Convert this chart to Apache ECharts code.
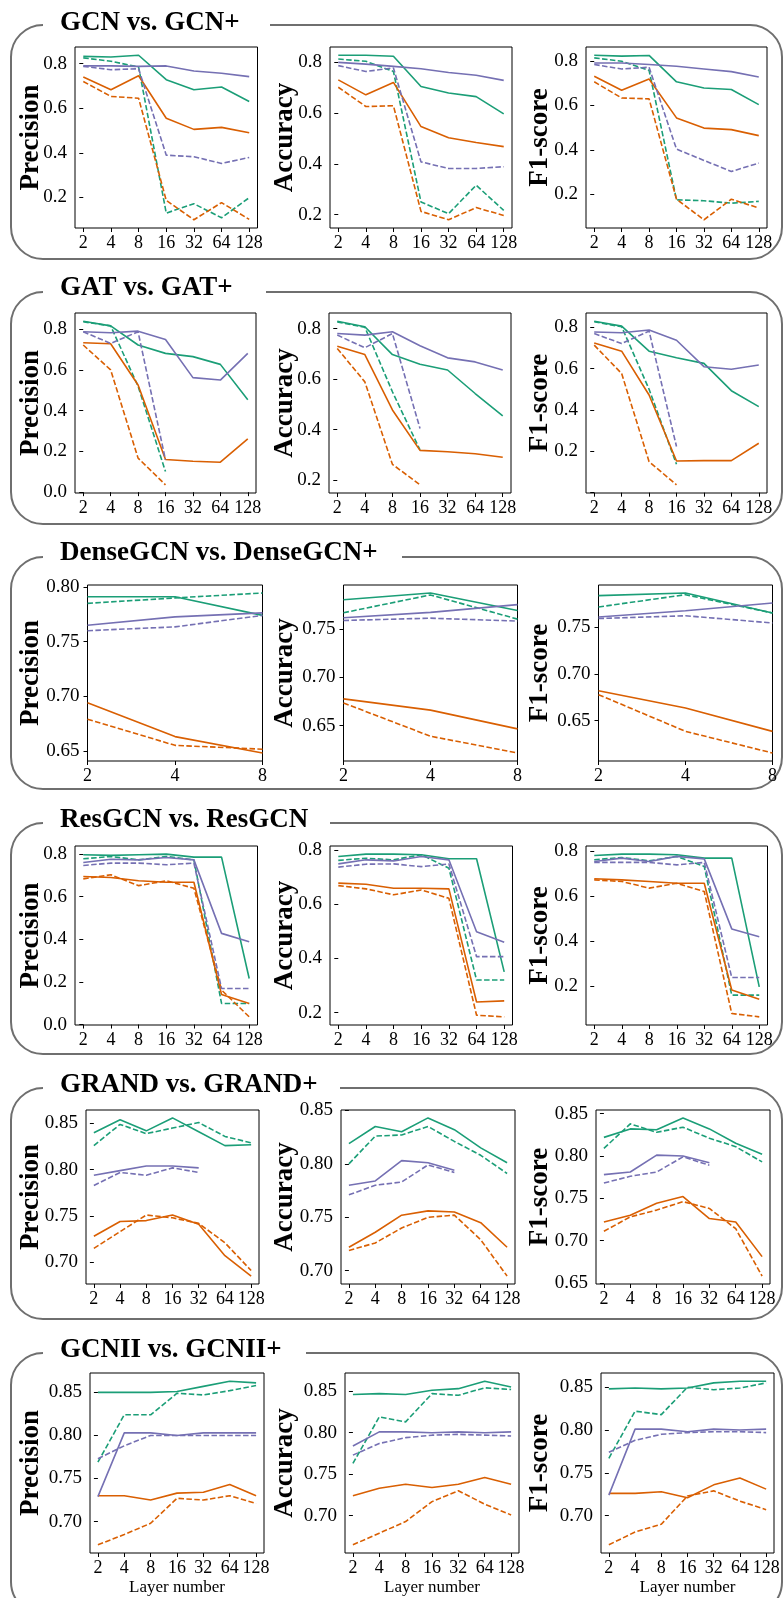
<!DOCTYPE html>
<html>
<head>
<meta charset="utf-8">
<script src="https://cdn.jsdelivr.net/npm/echarts@6/dist/echarts.min.js"></script>
<style>
html,body{margin:0;padding:0;background:#fff;}
#chart{width:784px;height:1598px;}
</style>
</head>
<body>
<div id="chart"></div>
<script>
// ---------------- DATA ----------------
const layers = ['2', '4', '8', '16', '32', '64', '128'];
const denseLayers = ['2', '4', '8'];
const ticksCoarse = [0.0, 0.2, 0.4, 0.6, 0.8];
const ticksFine = [0.65, 0.70, 0.75, 0.80, 0.85];
const metricNames = ['Precision', 'Accuracy', 'F1-score'];
// series order in each panel: green solid, green dashed, orange solid, orange dashed, purple solid, purple dashed
const seriesNames = ['Green (solid)', 'Green (dashed)', 'Orange (solid)', 'Orange (dashed)', 'Purple (solid)', 'Purple (dashed)'];

const gcnPrecision = [
  [0.833, 0.830, 0.838, 0.728, 0.683, 0.695, 0.630],
  [0.826, 0.811, 0.785, 0.129, 0.171, 0.108, 0.198],
  [0.740, 0.683, 0.746, 0.555, 0.505, 0.514, 0.490],
  [0.720, 0.653, 0.645, 0.186, 0.099, 0.176, 0.101],
  [0.790, 0.790, 0.788, 0.790, 0.767, 0.757, 0.742],
  [0.788, 0.773, 0.777, 0.389, 0.382, 0.352, 0.379]
];
const gcnAccuracy = [
  [0.828, 0.828, 0.824, 0.705, 0.679, 0.665, 0.597],
  [0.813, 0.804, 0.764, 0.250, 0.204, 0.316, 0.217],
  [0.731, 0.672, 0.721, 0.547, 0.503, 0.484, 0.468],
  [0.702, 0.626, 0.629, 0.213, 0.180, 0.228, 0.197],
  [0.800, 0.793, 0.784, 0.775, 0.760, 0.749, 0.729],
  [0.787, 0.764, 0.778, 0.408, 0.382, 0.382, 0.389]
];
const gcnF1 = [
  [0.827, 0.823, 0.826, 0.707, 0.679, 0.672, 0.604],
  [0.815, 0.800, 0.759, 0.174, 0.170, 0.159, 0.167],
  [0.732, 0.669, 0.720, 0.544, 0.498, 0.491, 0.464],
  [0.707, 0.634, 0.630, 0.177, 0.084, 0.177, 0.137],
  [0.792, 0.792, 0.785, 0.777, 0.765, 0.753, 0.729],
  [0.785, 0.765, 0.773, 0.403, 0.352, 0.302, 0.340]
];

const gatPrecision = [
  [0.839, 0.816, 0.722, 0.681, 0.665, 0.627, 0.453],
  [0.836, 0.816, 0.520, 0.101, null, null, null],
  [0.733, 0.728, 0.526, 0.160, 0.152, 0.147, 0.261],
  [0.722, 0.600, 0.167, 0.036, null, null, null],
  [0.787, 0.782, 0.790, 0.749, 0.562, 0.550, 0.681],
  [0.787, 0.730, 0.787, 0.158, null, null, null]
];
const gatAccuracy = [
  [0.829, 0.807, 0.697, 0.659, 0.636, 0.543, 0.455],
  [0.826, 0.805, 0.550, 0.320, null, null, null],
  [0.730, 0.697, 0.478, 0.318, 0.313, 0.305, 0.291],
  [0.721, 0.589, 0.263, 0.182, null, null, null],
  [0.780, 0.774, 0.787, 0.732, 0.684, 0.668, 0.636],
  [0.774, 0.724, 0.780, 0.405, null, null, null]
];
const gatF1 = [
  [0.829, 0.805, 0.684, 0.652, 0.625, 0.493, 0.416],
  [0.826, 0.802, 0.500, 0.137, null, null, null],
  [0.724, 0.684, 0.472, 0.153, 0.155, 0.155, 0.239],
  [0.713, 0.576, 0.150, 0.038, null, null, null],
  [0.777, 0.773, 0.786, 0.737, 0.609, 0.597, 0.617],
  [0.769, 0.721, 0.781, 0.223, null, null, null]
];

const denseGcnPrecision = [
  [0.791, 0.791, 0.774],
  [0.785, 0.790, 0.7945],
  [0.694, 0.663, 0.648],
  [0.679, 0.655, 0.6515],
  [0.765, 0.7726, 0.7763],
  [0.760, 0.7635, 0.774]
];
const denseGcnAccuracy = [
  [0.780, 0.787, 0.769],
  [0.7666, 0.785, 0.760],
  [0.6776, 0.666, 0.6466],
  [0.6734, 0.639, 0.6217],
  [0.7614, 0.767, 0.775],
  [0.7586, 0.761, 0.758]
];
const denseGcnF1 = [
  [0.7835, 0.7863, 0.765],
  [0.7714, 0.7845, 0.765],
  [0.682, 0.6635, 0.6386],
  [0.6778, 0.6386, 0.6155],
  [0.7607, 0.7674, 0.7756],
  [0.759, 0.762, 0.7543]
];

const resGcnPrecision = [
  [0.797, 0.794, 0.797, 0.800, 0.786, 0.786, 0.216],
  [0.778, 0.789, 0.773, 0.789, 0.773, 0.099, 0.099],
  [0.695, 0.690, 0.675, 0.668, 0.668, 0.141, 0.099],
  [0.684, 0.703, 0.652, 0.675, 0.640, 0.162, 0.036],
  [0.761, 0.776, 0.773, 0.784, 0.773, 0.428, 0.389],
  [0.747, 0.758, 0.758, 0.750, 0.758, 0.169, 0.169]
];
const resGcnAccuracy = [
  [0.775, 0.784, 0.784, 0.782, 0.767, 0.767, 0.350],
  [0.761, 0.769, 0.763, 0.782, 0.732, 0.320, 0.320],
  [0.677, 0.673, 0.658, 0.658, 0.656, 0.239, 0.243],
  [0.668, 0.656, 0.634, 0.652, 0.621, 0.190, 0.184],
  [0.748, 0.763, 0.759, 0.775, 0.763, 0.498, 0.459],
  [0.736, 0.747, 0.748, 0.738, 0.748, 0.406, 0.406]
];
const resGcnF1 = [
  [0.782, 0.788, 0.788, 0.785, 0.770, 0.770, 0.195],
  [0.763, 0.773, 0.758, 0.778, 0.733, 0.158, 0.158],
  [0.678, 0.673, 0.666, 0.658, 0.658, 0.181, 0.140],
  [0.673, 0.666, 0.636, 0.658, 0.621, 0.076, 0.061],
  [0.755, 0.770, 0.755, 0.778, 0.767, 0.454, 0.419],
  [0.751, 0.751, 0.751, 0.740, 0.751, 0.237, 0.237]
];

const grandPrecision = [
  [0.840, 0.854, 0.842, 0.856, 0.841, 0.826, 0.827],
  [0.826, 0.849, 0.839, 0.845, 0.851, 0.836, 0.829],
  [0.728, 0.744, 0.745, 0.751, 0.741, 0.707, 0.685],
  [0.715, 0.733, 0.751, 0.748, 0.742, 0.721, 0.691],
  [0.794, 0.799, 0.804, 0.804, 0.802, null, null],
  [0.783, 0.797, 0.794, 0.802, 0.797, null, null]
];
const grandAccuracy = [
  [0.819, 0.835, 0.830, 0.843, 0.832, 0.815, 0.801],
  [0.800, 0.826, 0.827, 0.835, 0.821, 0.808, 0.791],
  [0.722, 0.736, 0.752, 0.756, 0.755, 0.745, 0.722],
  [0.719, 0.726, 0.740, 0.750, 0.752, 0.729, 0.695],
  [0.780, 0.784, 0.803, 0.801, 0.794, null, null],
  [0.771, 0.780, 0.783, 0.799, 0.792, null, null]
];
const grandF1 = [
  [0.822, 0.832, 0.831, 0.845, 0.832, 0.815, 0.802],
  [0.809, 0.838, 0.828, 0.834, 0.821, 0.811, 0.793],
  [0.722, 0.730, 0.744, 0.752, 0.726, 0.722, 0.681],
  [0.711, 0.728, 0.736, 0.746, 0.738, 0.714, 0.658],
  [0.778, 0.781, 0.801, 0.800, 0.792, null, null],
  [0.768, 0.776, 0.781, 0.799, 0.789, null, null]
];

const gcniiPrecision = [
  [0.850, 0.850, 0.850, 0.851, 0.857, 0.863, 0.861],
  [0.769, 0.824, 0.824, 0.849, 0.847, 0.852, 0.858],
  [0.730, 0.730, 0.725, 0.733, 0.734, 0.743, 0.730],
  [0.673, 0.685, 0.698, 0.727, 0.725, 0.730, 0.721],
  [0.729, 0.803, 0.803, 0.800, 0.803, 0.803, 0.803],
  [0.773, 0.788, 0.800, 0.800, 0.800, 0.800, 0.800]
];
const gcniiAccuracy = [
  [0.846, 0.847, 0.846, 0.851, 0.853, 0.862, 0.855],
  [0.763, 0.819, 0.813, 0.847, 0.845, 0.854, 0.852],
  [0.724, 0.733, 0.738, 0.734, 0.738, 0.746, 0.738],
  [0.665, 0.679, 0.693, 0.717, 0.730, 0.714, 0.701],
  [0.784, 0.801, 0.801, 0.800, 0.801, 0.800, 0.801],
  [0.773, 0.787, 0.794, 0.797, 0.798, 0.797, 0.796]
];
const gcniiF1 = [
  [0.848, 0.849, 0.848, 0.849, 0.855, 0.857, 0.857],
  [0.767, 0.822, 0.818, 0.850, 0.847, 0.849, 0.855],
  [0.726, 0.726, 0.728, 0.721, 0.736, 0.744, 0.731],
  [0.666, 0.681, 0.690, 0.723, 0.729, 0.717, 0.707],
  [0.724, 0.801, 0.801, 0.798, 0.801, 0.800, 0.801],
  [0.774, 0.788, 0.795, 0.797, 0.798, 0.798, 0.797]
];

// ---------------- LAYOUT / STYLE ----------------
const COLORS = ['#1b9e77', '#1b9e77', '#d95f02', '#d95f02', '#7570b3', '#7570b3'];
const DASHED = [false, true, false, true, false, true];
const SERIF = '"Liberation Serif", "Times New Roman", serif';
const FRAME_COLOR = '#6f6f6f';
const labelCenters = [31, 285, 540];

const rows = [
  {title: 'GCN vs. GCN+', panels: [gcnPrecision, gcnAccuracy, gcnF1], x: layers, ticks: ticksCoarse, dec: 1,
   frameTop: 25, frameBottom: 259, gapEnd: 270, titleY: 23, top: 47, bottom: 228,
   lefts: [75, 330, 586], rights: [257.5, 512, 767]},
  {title: 'GAT vs. GAT+', panels: [gatPrecision, gatAccuracy, gatF1], x: layers, ticks: ticksCoarse, dec: 1,
   frameTop: 292, frameBottom: 524, gapEnd: 266, titleY: 288, top: 313, bottom: 493,
   lefts: [75, 329, 586], rights: [256, 511, 767], hideZeroLabel: [false, false, true]},
  {title: 'DenseGCN vs. DenseGCN+', panels: [denseGcnPrecision, denseGcnAccuracy, denseGcnF1], x: denseLayers, ticks: ticksFine, dec: 2,
   frameTop: 557, frameBottom: 789, gapEnd: 402, titleY: 553, top: 585, bottom: 761,
   lefts: [87.5, 343.5, 598.5], rights: [262.5, 517.5, 772.5], noXMargin: true},
  {title: 'ResGCN vs. ResGCN', panels: [resGcnPrecision, resGcnAccuracy, resGcnF1], x: layers, ticks: ticksCoarse, dec: 1,
   frameTop: 823, frameBottom: 1054, gapEnd: 330, titleY: 820, top: 846, bottom: 1025,
   lefts: [75, 330, 586], rights: [257.5, 512.5, 767.5]},
  {title: 'GRAND vs. GRAND+', panels: [grandPrecision, grandAccuracy, grandF1], x: layers, ticks: ticksFine, dec: 2,
   frameTop: 1088, frameBottom: 1319, gapEnd: 340, titleY: 1085, top: 1110, bottom: 1284,
   lefts: [86, 341, 596], rights: [259, 515, 770]},
  {title: 'GCNII vs. GCNII+', panels: [gcniiPrecision, gcniiAccuracy, gcniiF1], x: layers, ticks: ticksFine, dec: 2,
   frameTop: 1353, frameBottom: 1614, gapEnd: 306, titleY: 1350, top: 1373, bottom: 1553,
   lefts: [90, 345, 601], rights: [264, 519, 774], xName: 'Layer number'}
];

// ---------------- BUILD OPTION ----------------
const grids = [], xAxes = [], yAxes = [], series = [], graphics = [];
const FRAME_L = 11, FRAME_R = 782, FRAME_RADIUS = 32;

rows.forEach((row, ri) => {
  // rounded frame
  graphics.push({
    type: 'rect', silent: true, z: 0,
    shape: {x: FRAME_L, y: row.frameTop, width: FRAME_R - FRAME_L, height: row.frameBottom - row.frameTop, r: FRAME_RADIUS},
    style: {fill: null, stroke: FRAME_COLOR, lineWidth: 2}
  });
  // gap in the top edge for the title
  graphics.push({
    type: 'rect', silent: true, z: 1,
    shape: {x: FRAME_L + FRAME_RADIUS, y: row.frameTop - 3, width: row.gapEnd - FRAME_L - FRAME_RADIUS, height: 6},
    style: {fill: '#fff', stroke: null}
  });
  graphics.push({
    type: 'text', x: 60, y: row.titleY, z: 2,
    style: {text: row.title, fill: '#000', font: 'bold 27px ' + SERIF, verticalAlign: 'middle', align: 'left'}
  });

  row.panels.forEach((panel, pi) => {
    const idx = grids.length;
    const left = row.lefts[pi], right = row.rights[pi];
    grids.push({
      left: left, top: row.top, width: right - left, height: row.bottom - row.top,
      show: true, borderColor: '#000', borderWidth: 1, backgroundColor: 'transparent'
    });
    const vals = [];
    panel.forEach(s => s.forEach(v => { if (v !== null) vals.push(v); }));
    const lo = Math.min.apply(null, vals), hi = Math.max.apply(null, vals);
    const m = (hi - lo) * 0.05;
    const yMin = lo - m, yMax = hi + m;
    const yTicks = row.ticks.filter(t => t >= yMin - 1e-9 && t <= yMax + 1e-9);
    const hideZero = row.hideZeroLabel && row.hideZeroLabel[pi];
    const yLabels = yTicks.filter(t => !(hideZero && Math.abs(t) < 1e-9));
    const nX = row.x.length;
    const xm = row.noXMargin ? 0 : (nX - 1) * 0.05;
    const xIdx = row.x.map((_, i) => i);
    const xLabelsArr = row.x;

    xAxes.push({
      type: 'value', gridIndex: idx, min: -xm, max: nX - 1 + xm,
      axisLine: {show: false},
      splitLine: {show: false},
      axisTick: {show: true, length: 4, lineStyle: {color: '#000', width: 1}, customValues: xIdx},
      axisLabel: {
        show: true, customValues: xIdx, margin: 6, color: '#000', fontFamily: SERIF, fontSize: 18,
        formatter: v => xLabelsArr[Math.round(v)]
      },
      name: row.xName || '', nameLocation: 'middle', nameGap: 26, nameMoveOverlap: false,
      nameTextStyle: {color: '#000', fontFamily: SERIF, fontSize: 17}
    });
    yAxes.push({
      type: 'value', gridIndex: idx, min: yMin, max: yMax,
      axisLine: {show: false},
      splitLine: {show: false},
      axisTick: {show: true, length: 4, lineStyle: {color: '#000', width: 1}, customValues: yTicks},
      axisLabel: {
        show: true, customValues: yLabels, margin: 8, color: '#000', fontFamily: SERIF, fontSize: 19,
        formatter: v => Number(v).toFixed(row.dec)
      },
      name: metricNames[pi], nameLocation: 'middle', nameGap: left - labelCenters[pi] - 13.5, nameMoveOverlap: false,
      nameTextStyle: {color: '#000', fontFamily: SERIF, fontSize: 27, fontWeight: 'bold'}
    });
    panel.forEach((s, si) => {
      const data = [];
      s.forEach((v, i) => { if (v !== null) data.push([i, v]); });
      series.push({
        type: 'line', name: seriesNames[si], xAxisIndex: idx, yAxisIndex: idx,
        data: data, symbol: 'none', smooth: false, clip: true,
        lineStyle: {color: COLORS[si], width: 1.6, type: DASHED[si] ? [5.5, 2.4] : 'solid'},
        itemStyle: {color: COLORS[si]},
        emphasis: {disabled: true}, z: 2
      });
    });
  });
});

const chart = echarts.init(document.getElementById('chart'), null, {renderer: 'canvas', width: 784, height: 1598});
chart.setOption({
  animation: false,
  backgroundColor: '#fff',
  grid: grids,
  xAxis: xAxes,
  yAxis: yAxes,
  series: series,
  graphic: graphics
});
</script>
</body>
</html>
